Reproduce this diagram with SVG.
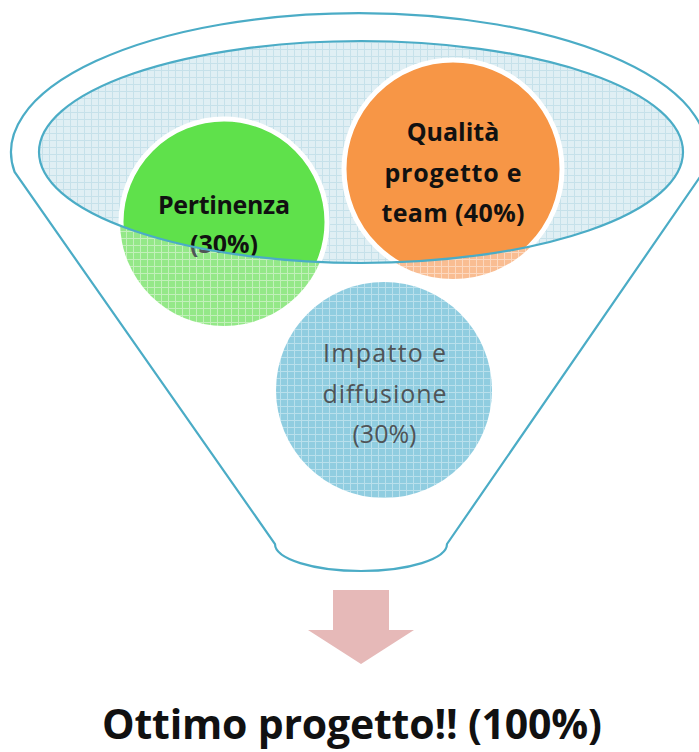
<svg xmlns="http://www.w3.org/2000/svg" width="699" height="752" viewBox="0 0 699 752">
<style>
.edge{fill:#ffffff;stroke:#4BACC6;stroke-width:2.2}
.lbl{font-family:"Open Sans","Liberation Sans",sans-serif;font-size:25px;text-anchor:middle}
.b{font-weight:bold}
.dark{fill:#111111}
.grey{fill:#4f5457}
</style>
<defs>
<pattern id="pBlue" width="7" height="7" patternUnits="userSpaceOnUse">
<rect width="7" height="7" fill="#e0eff4"/>
<path d="M0 0.5H7M0.5 0V7" stroke="#c6e1ea" stroke-width="1"/>
</pattern>
<pattern id="pGreen" width="7" height="7" patternUnits="userSpaceOnUse">
<rect width="7" height="7" fill="#94e888"/>
<path d="M0 0.5H7M0.5 0V7" stroke="#c2f0ba" stroke-width="1"/>
</pattern>
<pattern id="pOrange" width="7" height="7" patternUnits="userSpaceOnUse">
<rect width="7" height="7" fill="#f9bd92"/>
<path d="M0 0.5H7M0.5 0V7" stroke="#fcd8bf" stroke-width="1"/>
</pattern>
<pattern id="pCyan" width="7" height="7" patternUnits="userSpaceOnUse">
<rect width="7" height="7" fill="#90cde0"/>
<path d="M0 0.5H7M0.5 0V7" stroke="#b9e0ec" stroke-width="1"/>
</pattern>
<clipPath id="inner">
<ellipse cx="361" cy="152" rx="322" ry="111"/>
</clipPath>
</defs>

<g id="funnel">
<path class="edge" d="M 14.6,172 A 348 139 0 1 1 703.4,172 L 447,544 A 86 27 0 0 1 275,544 Z"/>
<ellipse cx="361" cy="152" rx="322" ry="111" fill="url(#pBlue)"/>
</g>

<g id="pertinenza">
<circle cx="224" cy="222" r="104" fill="url(#pGreen)"/>
<text class="lbl b grey"><tspan x="224" y="214" textLength="132">Pertinenza</tspan><tspan x="224" y="253">(30%)</tspan></text>
<g clip-path="url(#inner)">
<circle cx="224" cy="222" r="103" fill="#5fe14b" stroke="#ffffff" stroke-width="5"/>
<text class="lbl b dark"><tspan x="224" y="214" textLength="132">Pertinenza</tspan><tspan x="224" y="253">(30%)</tspan></text>
</g>
</g>

<g id="qualita">
<circle cx="453" cy="169" r="110" fill="url(#pOrange)"/>
<g clip-path="url(#inner)">
<circle cx="453" cy="169" r="109" fill="#f79646" stroke="#ffffff" stroke-width="5"/>
<text class="lbl b dark"><tspan x="453" y="141">Qualità</tspan><tspan x="453" y="182" textLength="137">progetto e</tspan><tspan x="453" y="222" textLength="143">team (40%)</tspan></text>
</g>
</g>

<g id="inner-rim">
<ellipse cx="361" cy="152" rx="322" ry="111" fill="none" stroke="#4BACC6" stroke-width="2.2"/>
</g>

<g id="impatto">
<circle cx="384" cy="390" r="108" fill="url(#pCyan)"/>
<text class="lbl grey"><tspan x="384.5" y="362" textLength="123">Impatto e</tspan><tspan x="384.5" y="403" textLength="124">diffusione</tspan><tspan x="384.5" y="443">(30%)</tspan></text>
</g>

<g id="connectors">
<polygon points="333,590 389,590 389,630 414,630 361,664 308,630 333,630" fill="#e6b9b8"/>
</g>

<g id="result">
<text x="352" y="739" font-family="'Open Sans','Liberation Sans',sans-serif" font-size="41" font-weight="bold" fill="#111111" text-anchor="middle" textLength="500">Ottimo progetto!! (100%)</text>
</g>
</svg>
